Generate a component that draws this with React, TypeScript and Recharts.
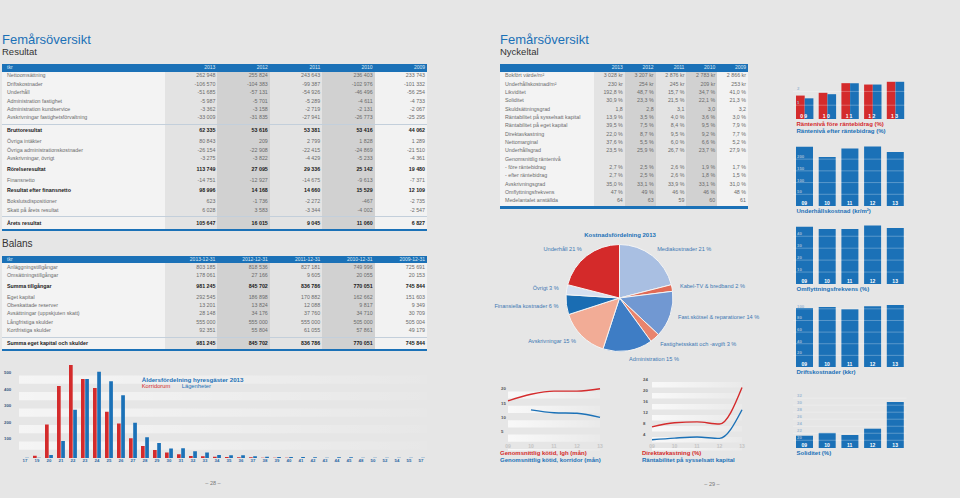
import React from 'react'
import {
  BarChart,
  Bar,
  LineChart,
  Line,
  PieChart,
  Pie,
  Cell,
  XAxis,
  YAxis,
  ReferenceArea,
  ReferenceLine,
} from 'recharts'

const FONT = '"Liberation Sans", Arial, Helvetica, sans-serif'
const BLUE = '#1b71b7'
const RED = '#d42b2c'
const PAGE = '#e6e6e6'
const NUM = '#6b6b6b'

// ---------- tables ----------
const years = ['2013', '2012', '2011', '2010', '2009']
const balansDates = ['2013-12-31', '2012-12-31', '2011-12-31', '2010-12-31', '2009-12-31']

type Row = { label?: string; values?: string[]; bold?: boolean; sep?: boolean }

const resultatRows: Row[] = [
  { label: 'Nettoomsättning', values: ['262 948', '255 824', '243 643', '236 403', '233 743'] },
  { label: 'Driftskostnader', values: ['-106 570', '-104 383', '-99 387', '-102 976', '-101 332'] },
  { label: 'Underhåll', values: ['-51 685', '-57 131', '-54 926', '-46 496', '-56 254'] },
  { label: 'Administration fastighet', values: ['-5 987', '-5 701', '-5 289', '-4 611', '-4 733'] },
  { label: 'Administration kundservice', values: ['-3 362', '-3 158', '-2 719', '-2 131', '-2 067'] },
  { label: 'Avskrivningar fastighetsförvaltning', values: ['-33 009', '-31 835', '-27 941', '-26 773', '-25 295'] },
  { sep: true },
  { label: 'Bruttoresultat', values: ['62 335', '53 616', '53 381', '53 416', '44 062'], bold: true },
  { label: 'Övriga intäkter', values: ['80 843', '209', '2 799', '1 828', '1 289'] },
  { label: 'Övriga administrationskostnader', values: ['-26 154', '-22 908', '-22 415', '-24 869', '-21 510'] },
  { label: 'Avskrivningar, övrigt', values: ['-3 275', '-3 822', '-4 429', '-5 233', '-4 361'] },
  { label: 'Rörelseresultat', values: ['113 749', '27 095', '29 336', '25 142', '19 480'], bold: true },
  { label: 'Finansnetto', values: ['-14 751', '-12 927', '-14 675', '-9 613', '-7 371'] },
  { label: 'Resultat efter finansnetto', values: ['98 996', '14 168', '14 660', '15 529', '12 109'], bold: true },
  { label: 'Bokslutsdispositioner', values: ['623', '-1 736', '-2 272', '-467', '-2 735'] },
  { label: 'Skatt på årets resultat', values: ['6 028', '3 583', '-3 344', '-4 002', '-2 547'] },
  { sep: true },
  { label: 'Årets resultat', values: ['105 647', '16 015', '9 045', '11 060', '6 827'], bold: true },
]

const balansRows: Row[] = [
  { label: 'Anläggningstillgångar', values: ['803 185', '818 536', '827 181', '749 996', '725 691'] },
  { label: 'Omsättningstillgångar', values: ['178 061', '27 166', '9 605', '20 055', '20 153'] },
  { label: 'Summa tillgångar', values: ['981 245', '845 702', '836 786', '770 051', '745 844'], bold: true },
  { label: 'Eget kapital', values: ['292 545', '186 898', '170 882', '162 662', '151 603'] },
  { label: 'Obeskattade reserver', values: ['13 201', '13 824', '12 088', '9 817', '9 349'] },
  { label: 'Avsättningar (uppskjuten skatt)', values: ['28 148', '34 176', '37 760', '34 710', '30 709'] },
  { label: 'Långfristiga skulder', values: ['555 000', '555 000', '555 000', '505 000', '505 004'] },
  { label: 'Kortfristiga skulder', values: ['92 351', '55 804', '61 055', '57 861', '49 179'] },
  { sep: true },
  { label: 'Summa eget kapital och skulder', values: ['981 245', '845 702', '836 786', '770 051', '745 844'], bold: true },
]

const nyckeltalRows: Row[] = [
  { label: 'Bokfört värde/m²', values: ['3 028 kr', '3 207 kr', '2 876 kr', '2 783 kr', '2 866 kr'] },
  { label: 'Underhållskostnad/m²', values: ['230 kr', '254 kr', '245 kr', '209 kr', '253 kr'] },
  { label: 'Likviditet', values: ['192,8 %', '48,7 %', '15,7 %', '34,7 %', '41,0 %'] },
  { label: 'Soliditet', values: ['30,9 %', '23,3 %', '21,5 %', '22,1 %', '21,3 %'] },
  { label: 'Skuldsättningsgrad', values: ['1,8', '2,8', '3,1', '3,0', '3,2'] },
  { label: 'Räntabilitet på sysselsatt kapital', values: ['13,9 %', '3,5 %', '4,0 %', '3,6 %', '3,0 %'] },
  { label: 'Räntabilitet på eget kapital', values: ['39,5 %', '7,5 %', '8,4 %', '9,5 %', '7,9 %'] },
  { label: 'Direktavkastning', values: ['22,0 %', '8,7 %', '9,5 %', '9,2 %', '7,7 %'] },
  { label: 'Nettomarginal', values: ['37,6 %', '5,5 %', '6,0 %', '6,6 %', '5,2 %'] },
  { label: 'Underhållsgrad', values: ['23,5 %', '25,9 %', '26,7 %', '23,7 %', '27,9 %'] },
  { label: 'Genomsnittlig räntenivå' },
  { label: '- före räntebidrag', values: ['2,7 %', '2,5 %', '2,6 %', '1,9 %', '1,7 %'] },
  { label: '- efter räntebidrag', values: ['2,7 %', '2,5 %', '2,6 %', '1,8 %', '1,5 %'] },
  { label: 'Avskrivningsgrad', values: ['35,0 %', '33,1 %', '33,9 %', '33,1 %', '31,0 %'] },
  { label: 'Omflyttningsfrekvens', values: ['47 %', '49 %', '46 %', '46 %', '48 %'] },
  { label: 'Medelantalet anställda', values: ['64', '63', '59', '60', '61'] },
]

// ---------- Åldersfördelning ----------
const ageGroups = ['17', '19', '20', '21', '22', '23', '24', '25', '26', '27', '28', '29', '30', '31', '32', '33', '34',
  '35', '36', '37', '38', '39', '40', '41', '42', '43', '44', '45', '48', '50', '52', '54', '55', '57']
const ageKorridor = [0, 14, 203, 436, 564, 479, 424, 280, 209, 120, 73, 49, 34, 22, 12, 10, 8,
  6, 4, 4, 2, 2, 2, 0, 0, 0, 0, 0, 0, 0, 0, 0, 0, 0]
const ageLagenhet = [2, 2, 18, 103, 292, 479, 523, 465, 381, 213, 126, 91, 57, 59, 41, 34, 18,
  16, 16, 10, 8, 6, 6, 6, 4, 2, 4, 4, 2, 1, 1, 1, 1, 1]
const ageTicks = [100, 200, 300, 400, 500]

// ---------- Kostnadsfördelning ----------
const costLabels = ['Mediakostnader', 'Kabel-TV & bredband', 'Fast.skötsel & reparationer', 'Fastighetsskatt och -avgift',
  'Administration', 'Avskrivningar', 'Finansiella kostnader', 'Övrigt', 'Underhåll']
const costShares = [21, 2, 14, 3, 15, 15, 6, 3, 21]
const costColors = ['#a9bfe2', '#e26a55', '#7198d2', '#e9846d', '#3e7dc5', '#f2ac96', '#1a6db3', '#d6e0f0', '#d42a2a']

// ---------- small series 09-13 ----------
const shortYears = ['09', '10', '11', '12', '13']
const rantaFore = [1.7, 1.9, 2.6, 2.5, 2.7]
const rantaEfter = [1.5, 1.8, 2.6, 2.5, 2.7]
const underhallKr = [253, 209, 245, 254, 230]
const omflyttning = [48, 46, 46, 49, 47]
const driftKkr = [101.3, 103.0, 99.4, 104.4, 106.6]
const soliditet = [21.3, 22.1, 21.5, 23.3, 30.9]
const kotidLgh = [16.7, 19.0, 20.1, 20.1, 20.9]
const kotidKorridor = [null, 13.6, 12.6, 12.4, 11.0]
const direktavkastning = [7.7, 9.2, 9.5, 8.7, 22.0]
const rantabilitetSyss = [3.0, 3.6, 4.0, 3.5, 13.9]

const ageData = ageGroups.map((age, i) => ({ age, korridor: ageKorridor[i], lagenhet: ageLagenhet[i] }))
const pieData = costLabels.map((name, i) => ({ name, value: costShares[i] }))
const rantaData = shortYears.map((year, i) => ({ year, fore: rantaFore[i], efter: rantaEfter[i] }))
const underhallData = shortYears.map((year, i) => ({ year, v: underhallKr[i] }))
const omflyttData = shortYears.map((year, i) => ({ year, v: omflyttning[i] }))
const driftData = shortYears.map((year, i) => ({ year, v: driftKkr[i] }))
const soliditetData = shortYears.map((year, i) => ({ year, v: soliditet[i] }))
const kotidData = shortYears.map((year, i) => ({ year, a: kotidLgh[i], b: kotidKorridor[i] }))
const direktData = shortYears.map((year, i) => ({ year, a: direktavkastning[i], b: rantabilitetSyss[i] }))

// ---------- helpers ----------
function Txt({ x, y, size, color, bold, align, children }: any) {
  const style: React.CSSProperties = {
    position: 'absolute',
    top: y - size / 2,
    fontSize: size,
    lineHeight: `${size}px`,
    color,
    fontWeight: bold ? 700 : 400,
    whiteSpace: 'nowrap',
    fontFamily: FONT,
  }
  if (align === 'center') {
    style.left = x
    style.transform = 'translateX(-50%)'
  } else if (align === 'right') {
    style.right = 960 - x
  } else {
    style.left = x
  }
  return <div style={style}>{children}</div>
}

const colShade = ['#e3e3e3', '#d1d1d1', '#e3e3e3', '#d1d1d1', '#f2f2f2']

function FinTable({ left, top, labelW, colW, corner, headers, rows, rowH }: any) {
  const width = labelW + colW * 5
  const placed: { row: Row; y: number }[] = []
  let cur = top + 12
  let first = true
  let prevBold = false
  let afterSep = false
  let sepY = 0
  for (const r of rows as Row[]) {
    if (r.sep) {
      sepY = cur + 6
      placed.push({ row: r, y: sepY })
      afterSep = true
      continue
    }
    if (!first) {
      if (afterSep) cur = sepY + 7
      else if (r.bold) cur += 10.5
      else if (prevBold) cur += 11
      else cur += rowH
    }
    placed.push({ row: r, y: cur })
    first = false
    prevBold = !!r.bold
    afterSep = false
  }
  const endY = cur + 5.5
  const headH = 7.5
  return (
    <>
      <div style={{ position: 'absolute', left, top: top + headH, width: labelW, height: endY - top - headH, background: '#f3f3f3' }} />
      {colShade.map((c, i) => (
        <div key={i} style={{ position: 'absolute', left: left + labelW + i * colW, top: top + headH, width: colW, height: endY - top - headH, background: c }} />
      ))}
      <div style={{ position: 'absolute', left, top, width, height: headH, background: BLUE }} />
      {corner && <Txt x={left + 5} y={top + headH / 2} size={5} color="#dfeaf5">{corner}</Txt>}
      {headers.map((h: string, i: number) => (
        <Txt key={h} x={left + labelW + (i + 1) * colW - 2} y={top + headH / 2} size={5} color="#dfeaf5" align="right">{h}</Txt>
      ))}
      {placed.map(({ row, y }, k) =>
        row.sep ? (
          <div key={k} style={{ position: 'absolute', left, top: y, width, height: 1, background: '#c3cfdb' }} />
        ) : (
          <React.Fragment key={k}>
            <Txt x={left + 5} y={y} size={5.3} color={row.bold ? '#1a1a1a' : NUM} bold={row.bold}>{row.label}</Txt>
            {(row.values || []).map((v, i) => (
              <Txt key={i} x={left + labelW + (i + 1) * colW - 2} y={y} size={5.3} color={row.bold ? '#1a1a1a' : NUM} bold={row.bold} align="right">{v}</Txt>
            ))}
          </React.Fragment>
        )
      )}
      <div style={{ position: 'absolute', left, top: endY, width, height: 2.2, background: BLUE }} />
    </>
  )
}

const leftTick = (size: number, color: string, dy: number) => (p: any) => (
  <text x={p.x} y={p.y + dy} textAnchor="start" fill={color} fontSize={size} fontWeight={700} fontFamily={FONT}>
    {p.payload.value}
  </text>
)

const centerTick = (size: number, color: string, dy: number, spacing = 0) => (p: any) => (
  <text x={p.x} y={p.y + dy} textAnchor="middle" fill={color} fontSize={size} fontWeight={700} fontFamily={FONT} letterSpacing={spacing}>
    {p.payload.value}
  </text>
)

function SmallBars({ top, bottom, domain, ticks, data, keys, colors, barSize, spacing }: any) {
  const height = bottom - top + 15
  return (
    <div style={{ position: 'absolute', left: 790, top: top - 6 }}>
      <BarChart width={120} height={height} data={data} margin={{ top: 6, right: 3.5, bottom: 1, left: 3 }} barGap={0}>
        {keys.map((k: string, i: number) => (
          <Bar key={k} dataKey={k} fill={colors[i]} barSize={barSize} isAnimationActive={false} />
        ))}
        {ticks.map((t: number) => (
          <ReferenceLine key={t} y={t} stroke="rgba(255,255,255,0.35)" strokeWidth={0.8} />
        ))}
        <XAxis dataKey="year" height={8} axisLine={false} tickLine={false} tickSize={0} tickMargin={0} interval={0}
          tick={centerTick(5, '#ffffff', -1.3, spacing)} />
        <YAxis type="number" domain={domain} ticks={ticks} width={20} mirror allowDataOverflow axisLine={false} tickLine={false}
          tickSize={0} tickMargin={4} interval={0} tick={leftTick(4.3, '#9fb9d3', -1)} />
      </BarChart>
    </div>
  )
}

function TrendChart({ left, right, padding, data, domain, ticks, id }: any) {
  const step = ticks[1] - ticks[0]
  const bandTops = [0, ...ticks]
  return (
    <div style={{ position: 'absolute', left, top: 370 }}>
      <LineChart width={125} height={90} data={data} margin={{ top: 8, right, bottom: 1.5, left: 8 }}>
        <defs>
          <linearGradient id={id} x1="0" y1="0" x2="1" y2="0">
            <stop offset="0%" stopColor="#ffffff" stopOpacity={0.75} />
            <stop offset="100%" stopColor="#ffffff" stopOpacity={0.15} />
          </linearGradient>
        </defs>
        {bandTops.map((t) => (
          <ReferenceArea key={t} y1={Math.max(t - step / 2, domain[0])} y2={t} fill={`url(#${id})`} fillOpacity={1} stroke="none" />
        ))}
        <XAxis dataKey="year" height={8} padding={padding} axisLine={false} tickLine={false} tickSize={0} tickMargin={0}
          interval={0} tick={centerTick(5, '#c4c4c4', -2.5)} />
        <YAxis type="number" domain={domain} ticks={ticks} width={20} mirror allowDataOverflow axisLine={false} tickLine={false}
          tickSize={0} tickMargin={3} interval={0} tick={leftTick(4.3, '#555', -1.2)} />
        <Line type="monotone" dataKey="a" stroke={RED} strokeWidth={1.4} dot={false} isAnimationActive={false} />
        <Line type="monotone" dataKey="b" stroke={BLUE} strokeWidth={1.4} dot={false} isAnimationActive={false} />
      </LineChart>
    </div>
  )
}

const renderPieLabel = (p: any) => {
  const rad = Math.PI / 180
  const r = p.outerRadius + 8
  const x = p.cx + r * Math.cos(-p.midAngle * rad)
  const y = p.cy + r * Math.sin(-p.midAngle * rad)
  return (
    <text x={x} y={y} dy="0.35em" textAnchor={x >= p.cx ? 'start' : 'end'} fill="#3d78b3" fontSize={5.6} fontFamily={FONT}>
      {`${p.name} ${p.value} %`}
    </text>
  )
}

export default function App() {
  return (
    <div style={{ position: 'absolute', left: 0, top: 0, width: 960, height: 498, background: PAGE, overflow: 'hidden', fontFamily: FONT }}>
      {/* ---------------- left page ---------------- */}
      <Txt x={2} y={39} size={13} color={BLUE}>Femårsöversikt</Txt>
      <Txt x={2} y={52} size={9.5} color="#333">Resultat</Txt>
      <FinTable left={2} top={64} labelW={163} colW={52.4} corner="tkr" headers={years} rows={resultatRows} rowH={8.4} />

      <Txt x={2} y={244} size={10} color="#333">Balans</Txt>
      <FinTable left={2} top={255.5} labelW={163} colW={52.4} corner="tkr" headers={balansDates} rows={balansRows} rowH={8.3} />

      <div style={{ position: 'absolute', left: 0, top: 350 }}>
        <BarChart width={430} height={120} data={ageData} margin={{ top: 9, right: 3, bottom: 4, left: 2 }} barGap={0.5}>
          <defs>
            <linearGradient id="ageBand" x1="0" y1="0" x2="1" y2="0">
              <stop offset="0%" stopColor="#ffffff" stopOpacity={0.6} />
              <stop offset="100%" stopColor="#ffffff" stopOpacity={0.05} />
            </linearGradient>
          </defs>
          {ageTicks.map((t) => (
            <ReferenceArea key={t} y1={t - 50} y2={t} fill="url(#ageBand)" fillOpacity={1} stroke="none" />
          ))}
          <XAxis dataKey="age" height={8} padding={{ left: 17, right: 0 }} axisLine={false} tickLine={false} tickSize={0}
            tickMargin={1} interval={0} tick={centerTick(4.3, '#2b67a3', 3)} />
          <YAxis type="number" domain={[0, 600]} ticks={ageTicks} width={20} mirror allowDataOverflow axisLine={false}
            tickLine={false} tickSize={0} tickMargin={2} interval={0} tick={leftTick(4.3, '#3a5a80', -1.5)} />
          <Bar dataKey="korridor" fill={RED} barSize={3.7} isAnimationActive={false} />
          <Bar dataKey="lagenhet" fill={BLUE} barSize={3.7} isAnimationActive={false} />
        </BarChart>
      </div>
      <Txt x={141.7} y={380} size={6.2} color={BLUE} bold>Åldersfördelning hyresgäster 2013</Txt>
      <Txt x={141.7} y={387} size={5.8} color={RED}>Korridorum</Txt>
      <Txt x={181.7} y={387} size={5.8} color={BLUE}>Lägenheter</Txt>

      <Txt x={213} y={484} size={5.5} color="#777" align="center">– 28 –</Txt>

      {/* ---------------- right page ---------------- */}
      <Txt x={500} y={39} size={13} color={BLUE}>Femårsöversikt</Txt>
      <Txt x={500} y={52} size={9.5} color="#333">Nyckeltal</Txt>
      <FinTable left={500} top={64} labelW={94} colW={30.8} corner="" headers={years} rows={nyckeltalRows} rowH={8.33} />

      <Txt x={620} y={235} size={6} color={BLUE} bold align="center">Kostnadsfördelning 2013</Txt>
      <div style={{ position: 'absolute', left: 490, top: 225 }}>
        <PieChart width={280} height={150} margin={{ top: 0, right: 0, bottom: 0, left: 0 }}>
          <Pie data={pieData} dataKey="value" nameKey="name" cx={129.5} cy={73} outerRadius={53.5} startAngle={90} endAngle={-270}
            stroke="#f4f4f4" strokeWidth={1} label={renderPieLabel} labelLine={false} isAnimationActive={false}>
            {pieData.map((d, i) => (
              <Cell key={d.name} fill={costColors[i]} />
            ))}
          </Pie>
        </PieChart>
      </div>

      <SmallBars top={76} bottom={119} domain={[0, 3.12]} ticks={[1, 2]} data={rantaData} keys={['fore', 'efter']}
        colors={[RED, BLUE]} barSize={8.7} spacing={1.4} />
      <Txt x={796.5} y={123.5} size={6} color={RED} bold>Räntenivå före räntebidrag (%)</Txt>
      <Txt x={796.5} y={131} size={6} color={BLUE} bold>Räntenivå efter räntebidrag (%)</Txt>

      <SmallBars top={140} bottom={206} domain={[0, 281.6]} ticks={[50, 100, 150, 200]} data={underhallData} keys={['v']}
        colors={[BLUE]} barSize={17} />
      <Txt x={796.5} y={211} size={6} color={BLUE} bold>Underhållskostnad (kr/m²)</Txt>

      <SmallBars top={220} bottom={284} domain={[0, 53.6]} ticks={[10, 20, 30, 40]} data={omflyttData} keys={['v']}
        colors={[BLUE]} barSize={17} />
      <Txt x={796.5} y={289} size={6} color={BLUE} bold>Omflyttningsfrekvens (%)</Txt>

      <SmallBars top={300} bottom={367} domain={[0, 115.2]} ticks={[20, 40, 60, 80, 100]} data={driftData} keys={['v']}
        colors={[BLUE]} barSize={17} />
      <Txt x={796.5} y={372} size={6} color={BLUE} bold>Driftskostnader (kkr)</Txt>

      <SmallBars top={395} bottom={448} domain={[17.8, 32.9]} ticks={[20, 22, 24, 26, 28, 30, 32]} data={soliditetData} keys={['v']}
        colors={[BLUE]} barSize={17} />
      <Txt x={796.5} y={453} size={6} color={BLUE} bold>Soliditet (%)</Txt>

      <TrendChart left={490} right={7} padding={{ left: 10, right: 8 }} data={kotidData} domain={[-0.52, 24.65]}
        ticks={[5, 10, 15, 20]} id="kotBand" />
      <Txt x={500} y={453} size={6} color={RED} bold>Genomsnittlig kötid, lgh (mån)</Txt>
      <Txt x={500} y={460} size={6} color={BLUE} bold>Genomsnittlig kötid, korridor (mån)</Txt>

      <TrendChart left={632} right={4} padding={{ left: 12, right: 11 }} data={direktData} domain={[-0.91, 25.45]}
        ticks={[4, 8, 12, 16, 20, 24]} id="dirBand" />
      <Txt x={642} y={453} size={6} color={RED} bold>Direktavkastning (%)</Txt>
      <Txt x={642} y={460} size={6} color={BLUE} bold>Räntabilitet på sysselsatt kapital</Txt>

      <Txt x={712} y={485} size={5.5} color="#777" align="center">– 29 –</Txt>
    </div>
  )
}
